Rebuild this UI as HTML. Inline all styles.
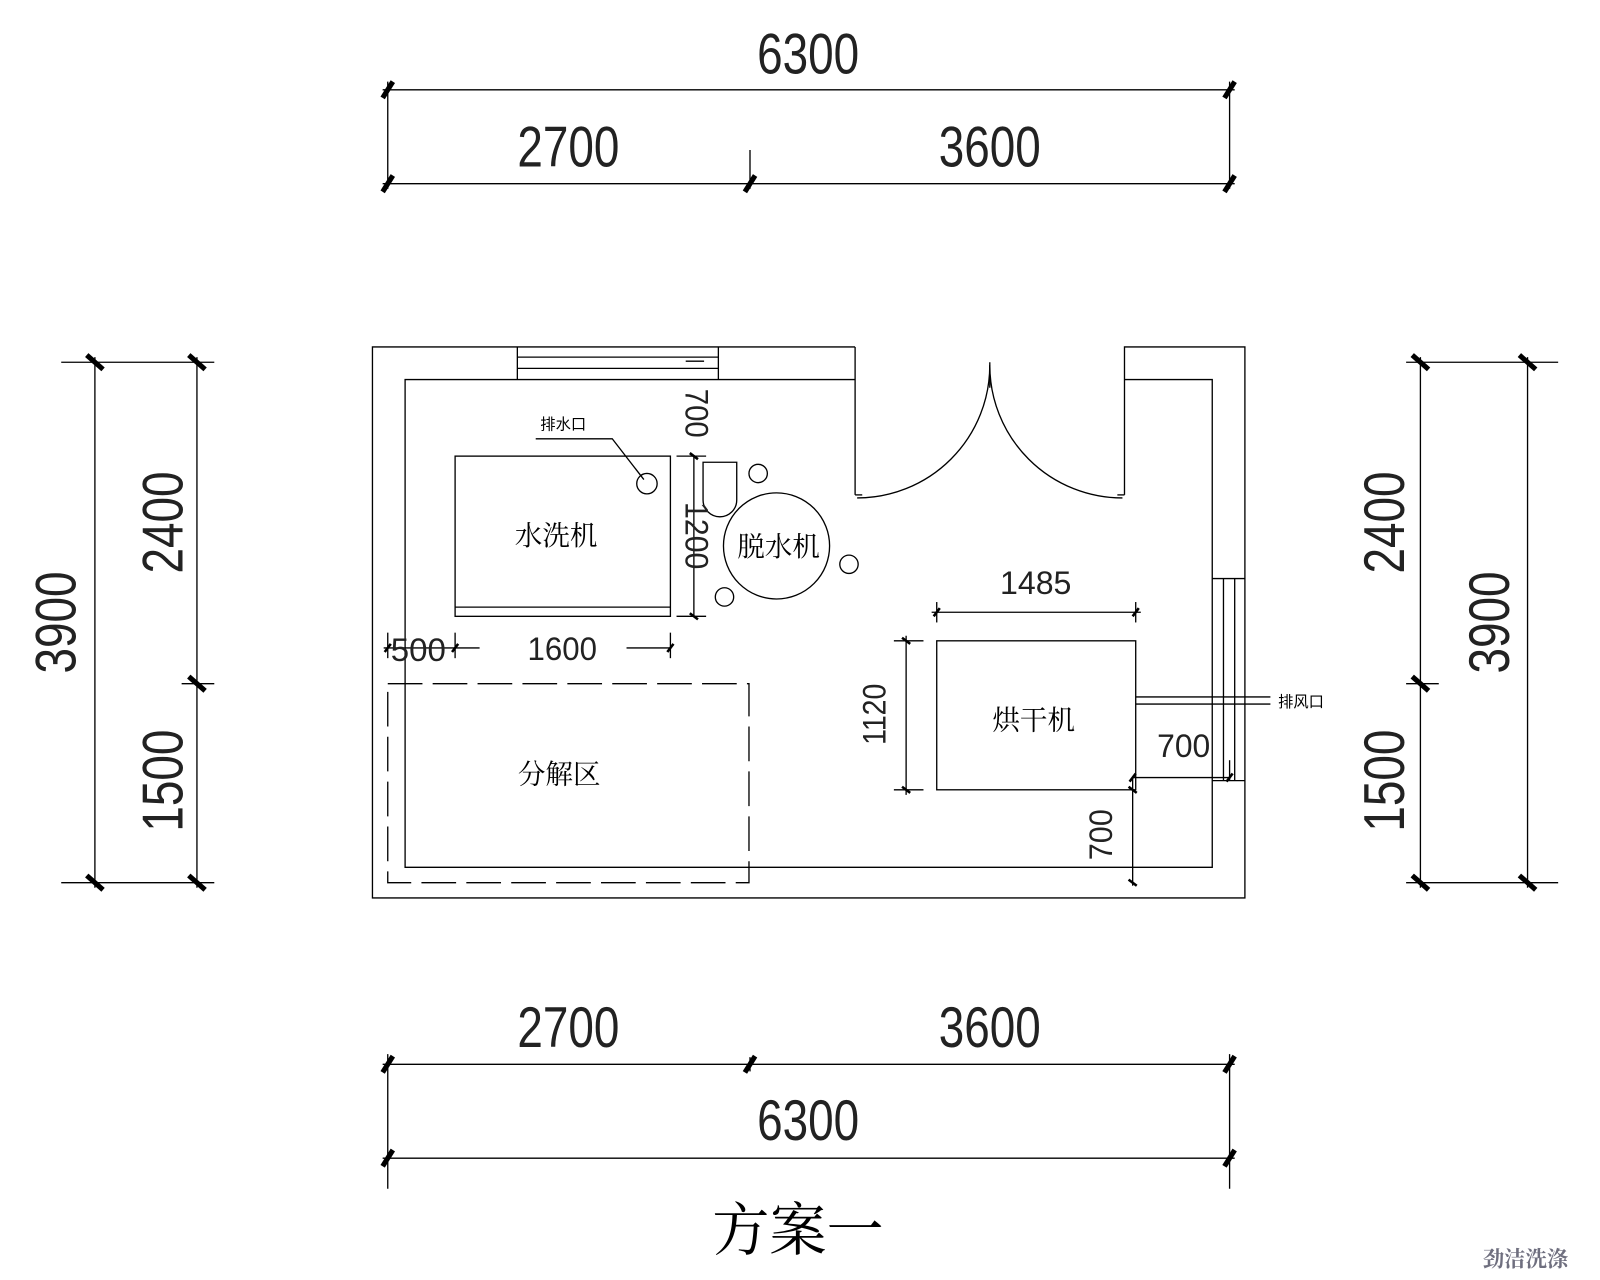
<!DOCTYPE html>
<html><head><meta charset="utf-8"><style>
html,body{margin:0;padding:0;background:#fff;width:1600px;height:1280px;overflow:hidden}
svg{display:block}
text{font-family:"Liberation Sans","Noto Sans CJK SC",sans-serif;fill:#000}
.n{font-size:56px;font-weight:normal;fill:#222}
.s{font-size:32px;fill:#222}
.c{font-family:"Liberation Serif","Noto Serif CJK SC",serif;font-size:27px}
</style></head><body>
<svg width="1600" height="1280" viewBox="0 0 1568 1254.4" preserveAspectRatio="none" xmlns="http://www.w3.org/2000/svg">
<g stroke="#000" stroke-width="1.3" fill="none">
<line x1="380" y1="80" x2="380" y2="185"/><line x1="1205" y1="80" x2="1205" y2="185"/><line x1="735" y1="147" x2="735" y2="185"/>
<line x1="375" y1="88" x2="1210" y2="88"/><line x1="375" y1="180" x2="1210" y2="180"/>
<line x1="380" y1="1033" x2="380" y2="1165"/><line x1="1205" y1="1033" x2="1205" y2="1165"/><line x1="735" y1="1036" x2="735" y2="1050"/>
<line x1="375" y1="1043" x2="1210" y2="1043"/><line x1="375" y1="1135" x2="1210" y2="1135"/>
<line x1="60" y1="355" x2="210" y2="355"/><line x1="60" y1="865" x2="210" y2="865"/><line x1="178" y1="670" x2="210" y2="670"/>
<line x1="93" y1="350" x2="93" y2="870"/><line x1="193" y1="350" x2="193" y2="870"/>
<line x1="1378" y1="355" x2="1527" y2="355"/><line x1="1378" y1="865" x2="1527" y2="865"/><line x1="1378" y1="670" x2="1410" y2="670"/>
<line x1="1392" y1="350" x2="1392" y2="870"/><line x1="1497" y1="350" x2="1497" y2="870"/>
<polyline points="838,340 365,340 365,880 1220,880 1220,340 1102,340 1102,485"/>
<line x1="838" y1="340" x2="838" y2="485"/>
<line x1="838" y1="485" x2="845" y2="485"/><line x1="1095" y1="485" x2="1102" y2="485"/>
<polyline points="838,372 397,372 397,850 1188,850 1188,372 1102,372"/>
<path d="M970,358 A130,130 0 0 1 840,488"/>
<path d="M970,358 A130,130 0 0 0 1100,488"/>
<line x1="970" y1="355" x2="970" y2="380"/>
<line x1="507" y1="340" x2="507" y2="372"/><line x1="704" y1="340" x2="704" y2="372"/>
<line x1="507" y1="350" x2="704" y2="350"/><line x1="507" y1="361" x2="704" y2="361"/>
<line x1="672" y1="354" x2="690" y2="354"/>
<line x1="1188" y1="567" x2="1220" y2="567"/><line x1="1188" y1="765" x2="1220" y2="765"/>
<line x1="1199" y1="567" x2="1199" y2="765"/><line x1="1210" y1="567" x2="1210" y2="765"/>
<rect x="446" y="447" width="211" height="157"/><line x1="446" y1="595" x2="657" y2="595"/>
<circle cx="634" cy="474" r="10"/>
<polyline points="525,430 600,430 631,470"/>
<line x1="680" y1="447" x2="680" y2="604"/><line x1="663" y1="447" x2="692" y2="447"/><line x1="663" y1="604" x2="692" y2="604"/>
<path d="M689,453 L722,453 L722,490 A16.5,16.5 0 0 1 689,490 Z"/>
<circle cx="743" cy="464" r="9"/><circle cx="832" cy="553" r="9"/><circle cx="710" cy="585" r="9"/>
<circle cx="761" cy="535" r="52"/>
<line x1="380" y1="620" x2="380" y2="645"/><line x1="446" y1="620" x2="446" y2="645"/><line x1="657" y1="620" x2="657" y2="645"/>
<line x1="376" y1="635" x2="470" y2="635"/><line x1="614" y1="635" x2="657" y2="635"/>
<rect x="380" y="670" width="354" height="195" stroke-dasharray="34,10"/>
<rect x="918" y="628" width="195" height="146"/>
<line x1="918" y1="590" x2="918" y2="610"/><line x1="1113" y1="590" x2="1113" y2="610"/><line x1="913" y1="600" x2="1118" y2="600"/>
<line x1="876" y1="628" x2="905" y2="628"/><line x1="876" y1="774" x2="905" y2="774"/><line x1="888" y1="623" x2="888" y2="779"/>
<line x1="1113" y1="683" x2="1245" y2="683"/><line x1="1113" y1="690" x2="1245" y2="690"/>
<line x1="1110" y1="762" x2="1205" y2="762"/><line x1="1205" y1="745" x2="1205" y2="765"/>
<line x1="1110" y1="762" x2="1110" y2="868"/>
</g>
<g stroke="#000" stroke-width="5">
<line x1="375" y1="96" x2="385" y2="80"/><line x1="1200" y1="96" x2="1210" y2="80"/>
<line x1="375" y1="188" x2="385" y2="172"/><line x1="730" y1="188" x2="740" y2="172"/><line x1="1200" y1="188" x2="1210" y2="172"/>
<line x1="375" y1="1051" x2="385" y2="1035"/><line x1="730" y1="1051" x2="740" y2="1035"/><line x1="1200" y1="1051" x2="1210" y2="1035"/>
<line x1="375" y1="1143" x2="385" y2="1127"/><line x1="1200" y1="1143" x2="1210" y2="1127"/>
<line x1="85" y1="348" x2="101" y2="362"/><line x1="185" y1="348" x2="201" y2="362"/><line x1="185" y1="663" x2="201" y2="677"/>
<line x1="85" y1="858" x2="101" y2="872"/><line x1="185" y1="858" x2="201" y2="872"/>
<line x1="1384" y1="348" x2="1400" y2="362"/><line x1="1489" y1="348" x2="1505" y2="362"/><line x1="1384" y1="663" x2="1400" y2="677"/>
<line x1="1384" y1="858" x2="1400" y2="872"/><line x1="1489" y1="858" x2="1505" y2="872"/>
</g>
<g stroke="#000" stroke-width="2.5">
<line x1="377" y1="639" x2="383" y2="631"/><line x1="443" y1="639" x2="449" y2="631"/><line x1="654" y1="639" x2="660" y2="631"/>
<line x1="676" y1="444" x2="684" y2="450"/><line x1="676" y1="601" x2="684" y2="607"/>
<line x1="915" y1="604" x2="921" y2="596"/><line x1="1110" y1="604" x2="1116" y2="596"/>
<line x1="884" y1="625" x2="892" y2="631"/><line x1="884" y1="771" x2="892" y2="777"/>
<line x1="1107" y1="766" x2="1113" y2="758"/><line x1="1202" y1="766" x2="1208" y2="758"/>
<line x1="1106" y1="771" x2="1114" y2="777"/><line x1="1106" y1="862" x2="1114" y2="868"/>
</g>
<text class="n" x="792" y="72" text-anchor="middle" textLength="100" lengthAdjust="spacingAndGlyphs">6300</text>
<text class="n" x="557" y="163" text-anchor="middle" textLength="100" lengthAdjust="spacingAndGlyphs">2700</text>
<text class="n" x="970" y="163" text-anchor="middle" textLength="100" lengthAdjust="spacingAndGlyphs">3600</text>
<text class="n" x="557" y="1026" text-anchor="middle" textLength="100" lengthAdjust="spacingAndGlyphs">2700</text>
<text class="n" x="970" y="1026" text-anchor="middle" textLength="100" lengthAdjust="spacingAndGlyphs">3600</text>
<text class="n" x="792" y="1117" text-anchor="middle" textLength="100" lengthAdjust="spacingAndGlyphs">6300</text>
<text class="n" transform="translate(74,610) rotate(-90)" text-anchor="middle" textLength="100" lengthAdjust="spacingAndGlyphs">3900</text>
<text class="n" transform="translate(179,512) rotate(-90)" text-anchor="middle" textLength="100" lengthAdjust="spacingAndGlyphs">2400</text>
<text class="n" transform="translate(179,765) rotate(-90)" text-anchor="middle" textLength="100" lengthAdjust="spacingAndGlyphs">1500</text>
<text class="n" transform="translate(1376,512) rotate(-90)" text-anchor="middle" textLength="100" lengthAdjust="spacingAndGlyphs">2400</text>
<text class="n" transform="translate(1376,765) rotate(-90)" text-anchor="middle" textLength="100" lengthAdjust="spacingAndGlyphs">1500</text>
<text class="n" transform="translate(1479,610) rotate(-90)" text-anchor="middle" textLength="100" lengthAdjust="spacingAndGlyphs">3900</text>
<text class="s" x="410" y="648" text-anchor="middle" textLength="54" lengthAdjust="spacingAndGlyphs">500</text>
<text class="s" x="551" y="647" text-anchor="middle" textLength="68" lengthAdjust="spacingAndGlyphs">1600</text>
<text class="s" transform="translate(672,405) rotate(90)" text-anchor="middle" textLength="48" lengthAdjust="spacingAndGlyphs">700</text>
<text class="s" transform="translate(672,525) rotate(90)" text-anchor="middle" textLength="66" lengthAdjust="spacingAndGlyphs">1200</text>
<text class="s" x="1015" y="582" text-anchor="middle" textLength="70" lengthAdjust="spacingAndGlyphs">1485</text>
<text class="s" transform="translate(868,700) rotate(-90)" text-anchor="middle" textLength="60" lengthAdjust="spacingAndGlyphs">1120</text>
<text class="s" x="1160" y="742" text-anchor="middle" textLength="52" lengthAdjust="spacingAndGlyphs">700</text>
<text class="s" transform="translate(1090,818) rotate(-90)" text-anchor="middle" textLength="50" lengthAdjust="spacingAndGlyphs">700</text>
<text class="c" x="545" y="534" text-anchor="middle">水洗机</text>
<text class="c" x="763" y="545" text-anchor="middle">脱水机</text>
<text class="c" x="548" y="768" text-anchor="middle">分解区</text>
<text class="c" x="1013" y="715" text-anchor="middle">烘干机</text>
<text x="552" y="421" text-anchor="middle" style="font-size:15px">排水口</text>
<text x="1275" y="693" text-anchor="middle" style="font-size:15px">排风口</text>
<text x="782" y="1225" text-anchor="middle" style="font-family:'Liberation Serif','Noto Serif CJK SC',serif;font-size:56px">方案一</text>
<text x="1495" y="1241" text-anchor="middle" style="font-family:'Liberation Serif','Noto Serif CJK SC',serif;font-size:21px;font-weight:bold;fill:#6f6f7f">劲洁洗涤</text>
</svg>
</body></html>
